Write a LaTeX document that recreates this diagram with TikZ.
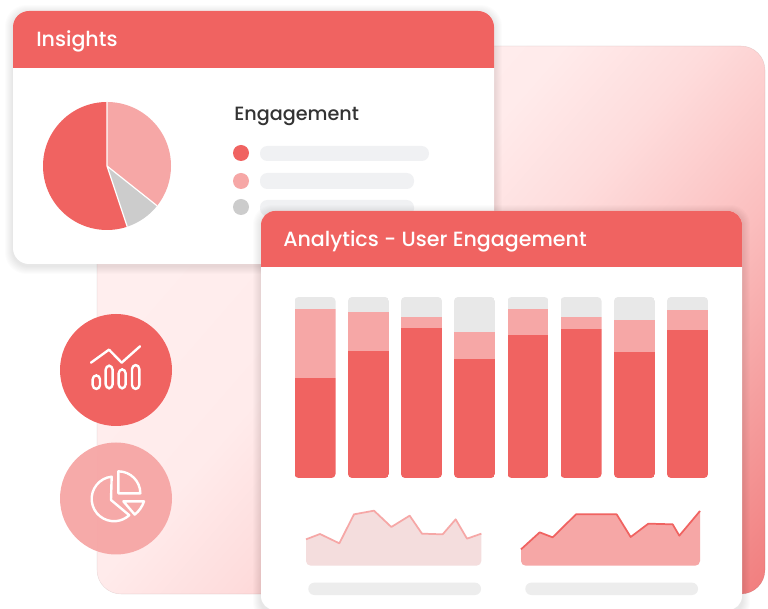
\documentclass[tikz,border=0pt]{standalone}
\usepackage{fontspec}
\setmainfont{Poppins Medium}
\definecolor{cred}{HTML}{F06361}
\definecolor{cpink}{HTML}{F6A7A6}
\definecolor{cgrey}{HTML}{CCCCCC}
\definecolor{cbar}{HTML}{F0F1F3}
\definecolor{ctop}{HTML}{E8E8E8}
\definecolor{carea}{HTML}{F4DDDD}
\definecolor{ga}{HTML}{FFEEEE}
\definecolor{gb}{HTML}{FFEBEB}
\definecolor{gc}{HTML}{FEDCDC}
\definecolor{gd}{HTML}{FBBFBF}
\definecolor{ge}{HTML}{F59E9E}
\definecolor{gf}{HTML}{F17C7C}
\pgfdeclarehorizontalshading{panelgrad}{100bp}{color(0bp)=(ga);color(25bp)=(ga);color(37.1bp)=(gb);color(45.2bp)=(gc);color(55.8bp)=(gd);color(65.1bp)=(ge);color(75bp)=(gf);color(100bp)=(gf)}
\newcommand{\softshadow}[5]{%
  \foreach \i in {1,...,8}{
    \fill[black,opacity=0.012,rounded corners=#5*0.75pt+\i*0.5pt]
      (#1-\i,#2-\i+2) rectangle (#3+\i,#4+\i+2);
  }}
\newcommand{\onebar}[3]{%
  \begin{scope}
    \clip[rounded corners=3pt] (#1,297) rectangle (#1+41,478);
    \fill[ctop] (#1,297) rectangle (#1+41,#2);
    \fill[cpink] (#1,#2) rectangle (#1+41,#3);
    \fill[cred] (#1,#3) rectangle (#1+41,478);
  \end{scope}}
\tikzset{
  headtext/.style={text=white,anchor=base west,inner sep=0pt,font=\fontsize{15.45pt}{18pt}\selectfont},
  iconline/.style={draw=white,line width=1.8pt,line cap=round,line join=round},
  zoomA/.style={shift={(280,490)},x=.25pt,y=-.25pt},
  zoomB/.style={shift={(40,300)},x=.25pt,y=-.25pt}
}
\begin{document}
\begin{tikzpicture}[x=.75pt,y=-.75pt]
\useasboundingbox (0,0) rectangle (768,609);
\clip (0,0) rectangle (768,609);
% background panel
\begin{scope}
  \clip[rounded corners=18pt] (97,46) rectangle (765,594);
  \fill[ga] (97,46) rectangle (765,594);
  \begin{scope}[transform canvas={rotate around={-41:(500,385)}}]
    \shade[shading=panelgrad] (160,-215) rectangle (840,985);
  \end{scope}
\end{scope}
\draw[black,opacity=.07,line width=.4pt,rounded corners=18pt] (97,46) rectangle (765,594);
% Insights card
\softshadow{13}{11}{494}{264}{16}
\fill[white,rounded corners=12pt] (13,11) rectangle (494,264);
\fill[cred] (13,68) [rounded corners=12pt] -- (13,11) -- (494,11) [sharp corners] -- (494,68) -- cycle;
\node[headtext] (insights) at (36,47) {Insights};
% pie
\coordinate (pie) at (107,166);
\fill[cred] (pie) -- ++(0,-64) arc[start angle=-90,end angle=-288.4,radius=64] -- cycle;
\fill[cpink] (pie) -- ++(0,-64) arc[start angle=-90,end angle=38.5,radius=64] -- cycle;
\fill[cgrey] (pie) -- ++(50.1,39.8) arc[start angle=38.5,end angle=71.6,radius=64] -- cycle;
\draw[white,line width=.9pt] (107,102) -- (pie) -- (157.1,205.8) (pie) -- (127.2,226.7);
\node[anchor=base west,inner sep=0pt,text=black!80,font=\fontsize{14.4pt}{17pt}\selectfont] (eng) at (234,121) {Engagement};
\fill[cred] (241,153) circle[radius=8];
\fill[cpink] (241,181) circle[radius=8];
\fill[cgrey] (241,207) circle[radius=8];
\fill[cbar,rounded corners=5.5pt] (260,146) rectangle (429,161);
\fill[cbar,rounded corners=5.5pt] (260,173) rectangle (414,189);
\fill[cbar,rounded corners=5.5pt] (260,200) rectangle (414,216);
% icon circles
\fill[cred] (116,370) circle[radius=56];
\fill[cpink,opacity=.97] (116,498.5) circle[radius=56];
\begin{scope}[zoomB]
  \draw[iconline] (153,188) -- (207,149) -- (245,188) -- (300,139);
  \draw[iconline,rounded corners=3pt] (158,226) rectangle (180,267);
  \draw[iconline,rounded corners=3pt] (197,197) rectangle (218,265);
  \draw[iconline,rounded corners=3pt] (236,208) rectangle (257,265);
  \draw[iconline,rounded corners=3pt] (276,195) rectangle (298,267);
  \draw[iconline] (215,530) arc[start angle=264,end angle=47,radius=67] -- (213,600) -- cycle;
  \draw[iconline] (235,514) arc[start angle=270,end angle=360,radius=66] -- (235,580) -- cycle;
  \draw[iconline] (250,604) -- (312,604) arc[start angle=18,end angle=52,radius=83] -- cycle;
\end{scope}
% Analytics card
\softshadow{261}{211}{742}{612}{14}
\fill[white,rounded corners=10.5pt] (261,211) rectangle (742,610);
\fill[cred] (261,267) [rounded corners=10.5pt] -- (261,211) -- (742,211) [sharp corners] -- (742,267) -- cycle;
\node[headtext] (analytics) at (283,247) {Analytics - User Engagement};
% bars
\onebar{294.5}{309}{378}
\onebar{348}{312}{351}
\onebar{401}{317}{328}
\onebar{454}{332}{359}
\onebar{507.5}{309}{335}
\onebar{560.5}{317}{329}
\onebar{614}{320}{352}
\onebar{667}{310}{330}
% area charts
\begin{scope}[zoomA]
  \fill[carea] (78,148) -- (120,132) -- (178,160) -- (222,73) -- (282,62) -- (334,111) -- (389,77) -- (426,131) -- (488,133) -- (527,88) -- (561,146) -- (604,131) [rounded corners=3.5pt] -- (604,227) -- (78,227) [sharp corners] -- cycle;
  \draw[cpink,line width=1.3pt,line join=round] (78,148) -- (120,132) -- (178,160) -- (222,73) -- (282,62) -- (334,111) -- (389,77) -- (426,131) -- (488,133) -- (527,88) -- (561,146) -- (604,131);
  \fill[cpink] (723,178) -- (779,127) -- (818,142) -- (888,73) -- (1010,73) -- (1052,141) -- (1105,101) -- (1178,103) -- (1198,137) -- (1260,63) [rounded corners=3.5pt] -- (1260,227) -- (723,227) [sharp corners] -- cycle;
  \draw[cred,line width=1.3pt,line join=round] (723,178) -- (779,127) -- (818,142) -- (888,73) -- (1010,73) -- (1052,141) -- (1105,101) -- (1178,103) -- (1198,137) -- (1260,63);
  \fill[black!7,rounded corners=4.5pt] (85,278) rectangle (603,315);
  \fill[black!7,rounded corners=4.5pt] (736,278) rectangle (1254,315);
\end{scope}
\end{tikzpicture}
\end{document}
